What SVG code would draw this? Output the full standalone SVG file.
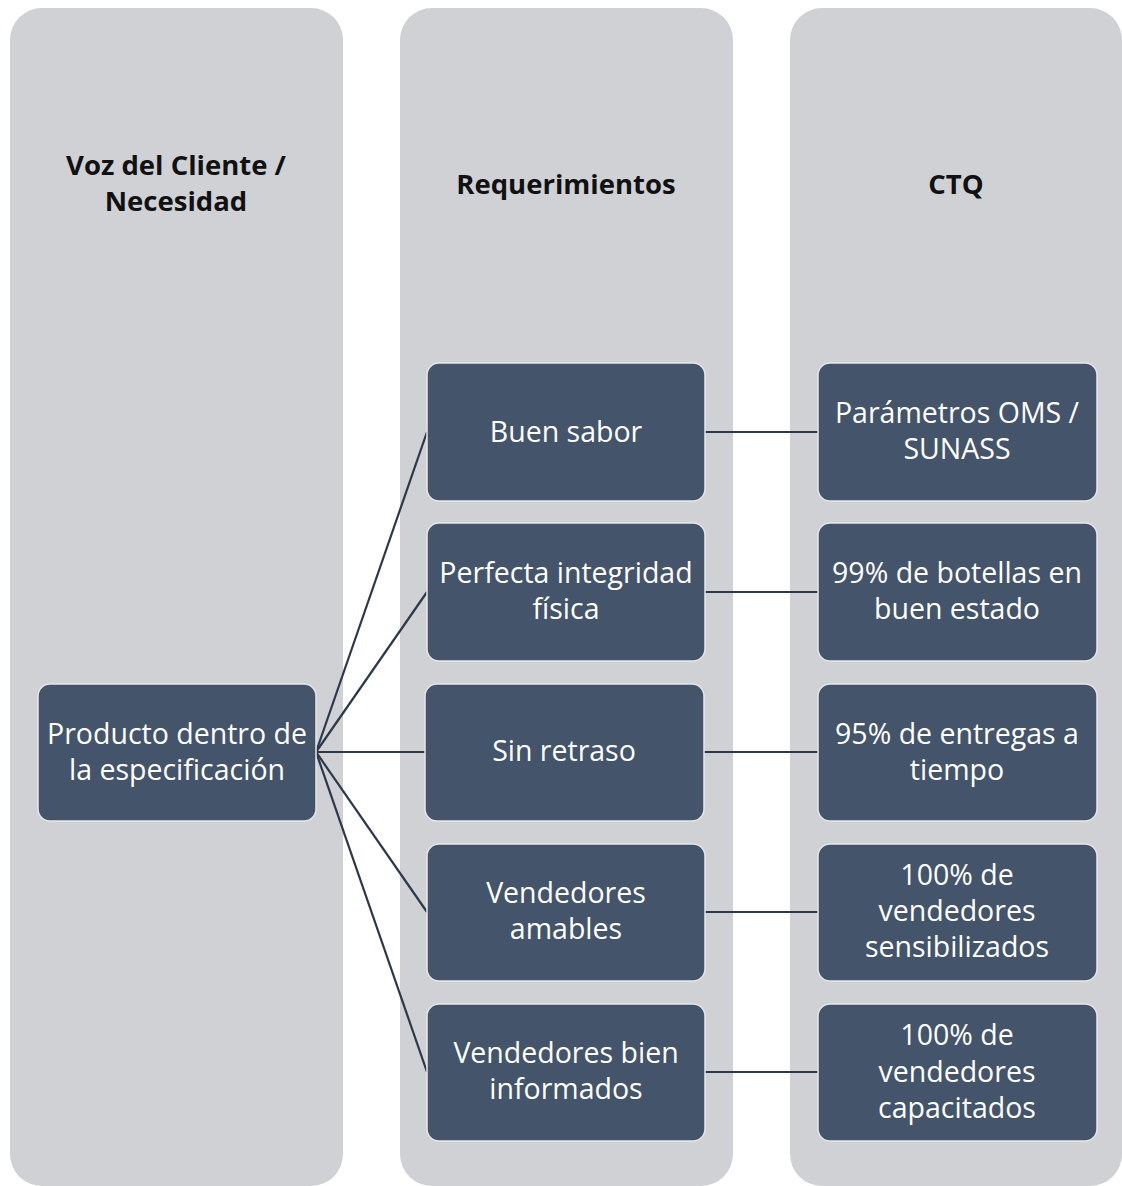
<svg xmlns="http://www.w3.org/2000/svg" width="1122" height="1186" viewBox="0 0 1122 1186">
<style>
.col{fill:#d0d1d5}
.node{fill:#44546a;stroke:#e6e7ea;stroke-width:1.5}
.t{font-family:"Open Sans","Liberation Sans",Arial,sans-serif;font-size:28.5px;fill:#ffffff;text-anchor:middle}
.h{font-family:"Open Sans","Liberation Sans",Arial,sans-serif;font-size:27.5px;font-weight:bold;fill:#111111;text-anchor:middle}
.c{stroke:#2c394b;stroke-width:2.2;fill:none}
</style>
<rect width="1122" height="1186" fill="#ffffff"/>
<g id="columns">
<rect class="col" x="10" y="8" width="333" height="1178" rx="32"/>
<rect class="col" x="400" y="8" width="333" height="1178" rx="32"/>
<rect class="col" x="790" y="8" width="332" height="1178" rx="32"/>
</g>
<g id="headers">
<text class="h" x="176" y="175">Voz del Cliente /</text>
<text class="h" x="176" y="211">Necesidad</text>
<text class="h" x="566" y="194">Requerimientos</text>
<text class="h" x="956" y="194">CTQ</text>
</g>
<g id="connectors">
<line class="c" x1="316" y1="752" x2="427" y2="432"/>
<line class="c" x1="316" y1="752" x2="427" y2="592"/>
<line class="c" x1="316" y1="752" x2="425" y2="752"/>
<line class="c" x1="316" y1="752" x2="427" y2="912"/>
<line class="c" x1="316" y1="752" x2="427" y2="1072"/>
<line class="c" x1="705" y1="432" x2="818" y2="432"/>
<line class="c" x1="705" y1="592" x2="818" y2="592"/>
<line class="c" x1="704" y1="752" x2="818" y2="752"/>
<line class="c" x1="705" y1="912" x2="818" y2="912"/>
<line class="c" x1="705" y1="1072" x2="818" y2="1072"/>
</g>
<g id="n-producto">
<rect class="node" x="38" y="684" width="278" height="137" rx="12"/>
<text class="t" x="177" y="744">Producto dentro de</text>
<text class="t" x="177" y="780">la especificación</text>
</g>
<g id="n-buen-sabor">
<rect class="node" x="427" y="363" width="278" height="138" rx="12"/>
<text class="t" x="566" y="442">Buen sabor</text>
</g>
<g id="n-integridad">
<rect class="node" x="427" y="523" width="278" height="138" rx="12"/>
<text class="t" x="566" y="583">Perfecta integridad</text>
<text class="t" x="566" y="619">física</text>
</g>
<g id="n-retraso">
<rect class="node" x="425" y="684" width="279" height="137" rx="12"/>
<text class="t" x="564" y="761">Sin retraso</text>
</g>
<g id="n-amables">
<rect class="node" x="427" y="844" width="278" height="137" rx="12"/>
<text class="t" x="566" y="903">Vendedores</text>
<text class="t" x="566" y="939">amables</text>
</g>
<g id="n-informados">
<rect class="node" x="427" y="1004" width="278" height="137" rx="12"/>
<text class="t" x="566" y="1063">Vendedores bien</text>
<text class="t" x="566" y="1099">informados</text>
</g>
<g id="n-oms">
<rect class="node" x="818" y="363" width="279" height="138" rx="12"/>
<text class="t" x="957" y="423">Parámetros OMS /</text>
<text class="t" x="957" y="459">SUNASS</text>
</g>
<g id="n-botellas">
<rect class="node" x="818" y="523" width="279" height="138" rx="12"/>
<text class="t" x="957" y="583">99% de botellas en</text>
<text class="t" x="957" y="619">buen estado</text>
</g>
<g id="n-entregas">
<rect class="node" x="818" y="684" width="279" height="137" rx="12"/>
<text class="t" x="957" y="744">95% de entregas a</text>
<text class="t" x="957" y="780">tiempo</text>
</g>
<g id="n-sensibilizados">
<rect class="node" x="818" y="844" width="279" height="137" rx="12"/>
<text class="t" x="957" y="885">100% de</text>
<text class="t" x="957" y="921">vendedores</text>
<text class="t" x="957" y="957">sensibilizados</text>
</g>
<g id="n-capacitados">
<rect class="node" x="818" y="1004" width="279" height="137" rx="12"/>
<text class="t" x="957" y="1045">100% de</text>
<text class="t" x="957" y="1082">vendedores</text>
<text class="t" x="957" y="1118">capacitados</text>
</g>
</svg>
